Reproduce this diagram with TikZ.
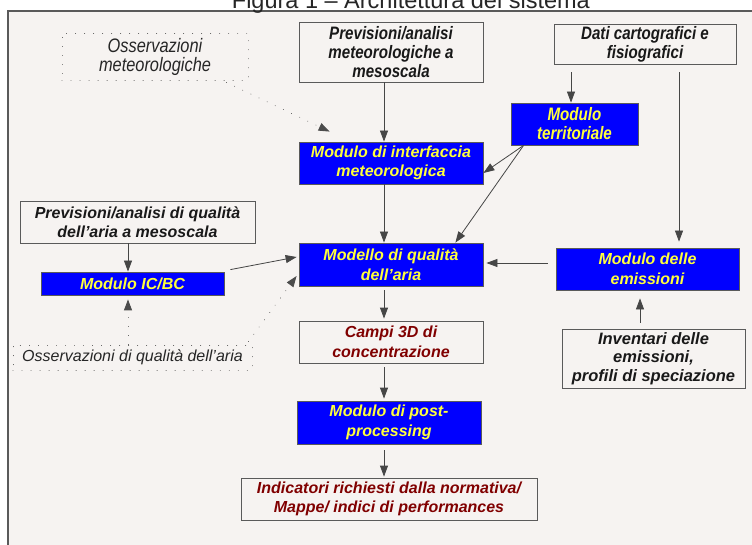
\documentclass[tikz,border=0pt]{standalone}
\usepackage{fontspec}
\setmainfont{Liberation Sans}
\newfontfamily\narrowfont[FakeStretch=0.84]{Liberation Sans}
\usetikzlibrary{arrows.meta,calc}
\definecolor{bgc}{RGB}{246,243,241}
\definecolor{boxblue}{RGB}{0,0,255}
\definecolor{txtyellow}{RGB}{255,255,60}
\definecolor{darkred}{RGB}{128,0,0}
\definecolor{linec}{RGB}{70,70,70}
\definecolor{framec}{RGB}{90,90,90}
\tikzset{
  bluebox/.style={draw=framec, line width=0.8pt, fill=boxblue, text=txtyellow, align=center, inner sep=0pt,
    font=\fontsize{16}{19.5}\selectfont\bfseries\itshape},
  whitebox/.style={draw=framec, line width=0.8pt, fill=bgc, text=black!90, align=center, inner sep=0pt,
    font=\fontsize{16}{19.5}\selectfont\bfseries\itshape},
  narrowtxt/.style={font=\fontsize{18}{19}\selectfont\narrowfont\bfseries\itshape},
  dotbox/.style={draw=black!70, line width=0.9pt, dash pattern=on 0.01pt off 9pt, line cap=round, align=center, inner sep=0pt,
    text=black!85, font=\fontsize{16}{19}\selectfont\itshape},
  arr/.style={draw=linec, line width=0.8pt, -{Triangle[width=8pt,length=11pt]}},
  dotarr/.style={draw=black!70, line width=0.9pt, dash pattern=on 0.01pt off 9pt, line cap=round, -{Triangle[width=8pt,length=11pt]}},
}
\begin{document}
\begin{tikzpicture}[x=1pt,y=-1pt]
\useasboundingbox (0,0) rectangle (752,545);
\fill[white] (0,0) rectangle (752,545);
\fill[bgc] (8,11) rectangle (752,545);
\draw[framec, line width=1.2pt] (8,545) -- (8,11) -- (752,11);
\node[anchor=base east, inner sep=0pt, font=\fontsize{23.5}{25}\selectfont, text=black!85] (title) at (590,8.5) {Figura 1 – Architettura del sistema};

% nodes
\node[dotbox, minimum width=186pt, minimum height=47pt, font=\fontsize{19.5}{19}\selectfont\narrowfont\itshape] (om) at (155,56.5) {Osservazioni\\meteorologiche};
\node[whitebox, narrowtxt, minimum width=184pt, minimum height=60pt] (pm) at (391,52) {Previsioni/analisi\\meteorologiche a\\mesoscala};
\node[whitebox, narrowtxt, minimum width=182pt, minimum height=40pt] (dc) at (645,44) {Dati cartografici e\\fisiografici};
\node[bluebox, narrowtxt, minimum width=127pt, minimum height=42pt] (mt) at (574.5,124) {Modulo\\territoriale};
\node[bluebox, minimum width=184pt, minimum height=42pt] (mi) at (391,163) {Modulo di interfaccia\\meteorologica};
\node[whitebox, minimum width=235pt, minimum height=42pt] (pq) at (137.5,222) {Previsioni/analisi di qualità\\dell'aria a mesoscala};
\node[bluebox, minimum width=183pt, minimum height=23pt] (ic) at (132.5,283.5) {Modulo IC/BC};
\node[bluebox, minimum width=184pt, minimum height=43pt] (mq) at (391,264.5) {Modello di qualità\\dell'aria};
\node[bluebox, minimum width=183pt, minimum height=42pt] (me) at (647.5,269) {Modulo delle\\emissioni};
\node[whitebox, text=darkred, minimum width=184pt, minimum height=42pt] (cc) at (391,342) {Campi 3D di\\concentrazione};
\node[dotbox, minimum width=239pt, minimum height=25pt] (oq) at (132.5,357.5) {Osservazioni di qualità dell'aria};
\node[whitebox, minimum width=183pt, minimum height=59pt, font=\fontsize{16.5}{18.5}\selectfont\bfseries\itshape] (inv) at (653.5,358.5) {Inventari delle\\emissioni,\\profili di speciazione};
\node[bluebox, minimum width=184pt, minimum height=43pt] (pp) at (389,422.5) {Modulo di post-\\processing};
\node[whitebox, text=darkred, minimum width=296pt, minimum height=42pt] (ind) at (389,499) {Indicatori richiesti dalla normativa/\\Mappe/ indici di performances};

% connectors
\draw[arr] ([xshift=-7pt]pm.south) -- ([xshift=-7pt]mi.north);
\draw[dotarr] ([xshift=-22pt,yshift=-2pt]om.south east) -- ([xshift=31pt,yshift=10pt]mi.north west);
\draw[arr, shorten <=8pt] ([xshift=-3.5pt]dc.south -| mt.north) -- ([xshift=-3.5pt]mt.north);
\draw[arr, shorten <=8pt, shorten >=6pt] ([xshift=34pt]dc.south) -- ([xshift=34pt]dc.south |- me.north);
\coordinate (mtO) at ([xshift=13pt]mt.south west);
\draw[arr] (mtO) -- ([yshift=-10pt]mi.east);
\draw[arr] (mtO) -- ([xshift=-28pt]mq.north east);
\draw[arr] ([xshift=-7pt]mi.south) -- ([xshift=-7pt]mq.north);
\draw[arr] ([xshift=-9.5pt]pq.south) -- ([xshift=-4.5pt]ic.north);
\draw[arr] ([xshift=6pt,yshift=2pt]ic.north east) -- ([xshift=-2pt,yshift=7.5pt]mq.west);
\draw[dotarr] ([xshift=-4pt,yshift=3pt]oq.north east) -- ([xshift=-2pt,yshift=-11.5pt]mq.west);
\draw[dotarr] ([xshift=-4.5pt]oq.north) -- ([xshift=-4.5pt,yshift=-4pt]ic.south);
\draw[arr, shorten <=8pt, shorten >=3pt] ([yshift=6pt]me.west) -- ([yshift=1.5pt]mq.east);
\draw[arr, shorten <=4pt, shorten >=2pt] ([xshift=-7pt]mq.south) -- ([xshift=-7pt]cc.north);
\draw[arr, shorten <=4pt, shorten >=2pt] ([xshift=-7pt]cc.south) -- ([xshift=-5pt]pp.north);
\draw[arr, shorten <=6pt, shorten >=1pt] ([xshift=-5pt]pp.south) -- ([xshift=-5pt]ind.north);
\draw[arr, shorten <=6pt, shorten >=8pt] ([xshift=-13.5pt]inv.north) -- ([xshift=-7.5pt]me.south);
\end{tikzpicture}
\end{document}
